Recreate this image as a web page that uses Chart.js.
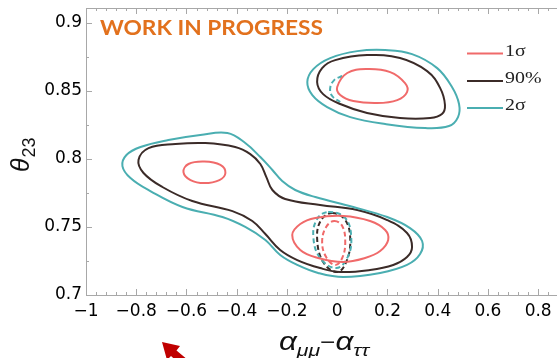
<!DOCTYPE html>
<html>
<head>
<meta charset="utf-8">
<script src="https://cdn.jsdelivr.net/npm/chart.js@4.4.0/dist/chart.umd.min.js"></script>
<style>
  html, body { margin: 0; padding: 0; background: #fff; }
  #wrap { width: 557px; height: 358px; position: relative; }
</style>
</head>
<body>
<div id="wrap"><canvas id="chart"></canvas></div>
<script>
// ejes y etiquetas
const xTicks = [-1, -0.8, -0.6, -0.4, -0.2, 0, 0.2, 0.4, 0.6, 0.8];
const xTickLabels = ['−1', '−0.8', '−0.6', '−0.4', '−0.2', '0', '0.2', '0.4', '0.6', '0.8'];
const yTicks = [0.7, 0.75, 0.8, 0.85, 0.9];
const yTickLabels = ['0.7', '0.75', '0.8', '0.85', '0.9'];
const legendLabels = ['1σ', '90%', '2σ'];

// 2σ, isla de arriba
const sig2UpX = [-0.119, -0.095, -0.028, 0.080, 0.191, 0.298, 0.398, 0.457, 0.485, 0.481, 0.445, 0.350, 0.191, 0.052, -0.040, -0.099];
const sig2UpY = [0.8566, 0.8661, 0.8742, 0.8793, 0.8801, 0.8771, 0.8668, 0.8529, 0.8404, 0.8308, 0.8242, 0.8227, 0.8257, 0.8308, 0.8382, 0.8470];
// 90%, isla de arriba
const c90UpX = [-0.080, -0.060, -0.008, 0.119, 0.250, 0.358, 0.410, 0.429, 0.417, 0.370, 0.250, 0.119, 0.012, -0.056];
const c90UpY = [0.8566, 0.8668, 0.8727, 0.8764, 0.8742, 0.8646, 0.8521, 0.8397, 0.8330, 0.8301, 0.8301, 0.8338, 0.8404, 0.8477];
// 1σ, isla de arriba
const sig1UpX = [0.000, 0.040, 0.119, 0.211, 0.270, 0.278, 0.239, 0.159, 0.064, 0.012];
const sig1UpY = [0.8529, 0.8632, 0.8661, 0.8639, 0.8558, 0.8492, 0.8433, 0.8411, 0.8426, 0.8470];
// 2σ punteado arriba (solo un arco)
const sig2DashUpX = [0.020, -0.012, -0.028, -0.020, 0.012];
const sig2DashUpY = [0.8610, 0.8580, 0.8521, 0.8463, 0.8419];

// 2σ, isla de abajo
const sig2LowX = [-0.545, -0.437, -0.366, -0.306, -0.258, -0.219, -0.167, -0.087, 0.064, 0.199, 0.290, 0.338, 0.330, 0.278, 0.171, 0.024, -0.076, -0.159, -0.227, -0.286, -0.366, -0.457, -0.616, -0.744, -0.823, -0.855, -0.839, -0.783, -0.672];
const sig2LowY = [0.8176, 0.8191, 0.8117, 0.8014, 0.7919, 0.7838, 0.7772, 0.7720, 0.7647, 0.7573, 0.7492, 0.7397, 0.7301, 0.7221, 0.7162, 0.7132, 0.7162, 0.7221, 0.7294, 0.7404, 0.7500, 0.7573, 0.7647, 0.7764, 0.7860, 0.7948, 0.8029, 0.8088, 0.8139];
// 90%, isla de abajo
const c90LowX = [-0.751, -0.644, -0.525, -0.406, -0.346, -0.306, -0.282, -0.258, -0.207, -0.068, 0.080, 0.199, 0.278, 0.298, 0.278, 0.223, 0.131, 0.012, -0.068, -0.159, -0.227, -0.286, -0.338, -0.417, -0.577, -0.696, -0.771, -0.791];
const c90LowY = [0.8080, 0.8110, 0.8117, 0.8088, 0.8036, 0.7963, 0.7867, 0.7772, 0.7706, 0.7662, 0.7625, 0.7551, 0.7456, 0.7353, 0.7279, 0.7221, 0.7184, 0.7169, 0.7198, 0.7257, 0.7331, 0.7448, 0.7544, 0.7617, 0.7691, 0.7794, 0.7897, 0.7992];
// 1σ, isla de abajo (izquierda y derecha)
const sig1LeftX = [-0.612, -0.592, -0.529, -0.465, -0.445, -0.469, -0.529, -0.584];
const sig1LeftY = [0.7904, 0.7963, 0.7981, 0.7956, 0.7897, 0.7845, 0.7823, 0.7845];
const sig1RightX = [-0.179, -0.147, -0.087, 0.024, 0.131, 0.191, 0.203, 0.171, 0.111, 0.024, -0.076, -0.147];
const sig1RightY = [0.7441, 0.7522, 0.7566, 0.7581, 0.7544, 0.7478, 0.7404, 0.7323, 0.7272, 0.7243, 0.7272, 0.7331];
// contornos punteados cerca de 0
const sig2DashX = [-0.036, 0.032, 0.056, 0.040, -0.004, -0.068, -0.095, -0.080];
const sig2DashY = [0.7610, 0.7566, 0.7419, 0.7272, 0.7198, 0.7272, 0.7426, 0.7559];
const c90DashX = [-0.020, 0.032, 0.052, 0.036, 0.000, -0.056, -0.080, -0.064];
const c90DashY = [0.7603, 0.7551, 0.7404, 0.7243, 0.7169, 0.7243, 0.7419, 0.7551];
const sig1DashX = [-0.012, 0.020, 0.032, 0.020, -0.008, -0.044, -0.060, -0.044];
const sig1DashY = [0.7544, 0.7507, 0.7390, 0.7272, 0.7221, 0.7279, 0.7390, 0.7500];

const red = '#F06A6A';
const black = '#3B2B28';
const teal = '#4AAEB1';
const axisColor = '#A8A8A8';

// Contorno cerrado: repetimos puntos en los extremos y ocultamos el primer y el último tramo
function closedContour(xs, ys, color, dash) {
    const n = xs.length;
    const pts = xs.map((x, i) => ({ x: x, y: ys[i] }));
    const data = [pts[n - 1]].concat(pts, [pts[0], pts[1]]);
    const last = data.length - 1;
    return {
        data: data,
        showLine: true,
        borderColor: color,
        borderWidth: 2,
        borderDash: dash || [],
        pointRadius: 0,
        tension: 0.4,
        segment: {
            borderColor: c => (c.p0DataIndex === 0 || c.p1DataIndex === last) ? 'rgba(0,0,0,0)' : color
        }
    };
}

function openContour(xs, ys, color, dash) {
    return {
        data: xs.map((x, i) => ({ x: x, y: ys[i] })),
        showLine: true,
        borderColor: color,
        borderWidth: 2,
        borderDash: dash || [],
        pointRadius: 0,
        tension: 0.4
    };
}

const dash = [5, 3];

// texto estirado en horizontal, como en la figura original
function stretchText(ctx, text, x, y, font, sx) {
    ctx.save();
    ctx.translate(x, y);
    ctx.scale(sx, 1);
    ctx.font = font;
    ctx.fillText(text, 0, 0);
    const w = ctx.measureText(text).width * sx;
    ctx.restore();
    return w;
}

const decor = {
    id: 'decor',
    afterDraw(chart) {
        const ctx = chart.ctx;
        const a = chart.chartArea;
        const xs = chart.scales.x;
        const ys = chart.scales.y;
        ctx.save();

        // marco (izquierda, abajo, arriba)
        ctx.strokeStyle = axisColor;
        ctx.lineWidth = 1;
        ctx.beginPath();
        ctx.moveTo(a.right, a.top + 0.5);
        ctx.lineTo(a.left + 0.5, a.top + 0.5);
        ctx.lineTo(a.left + 0.5, a.bottom + 0.5);
        ctx.lineTo(a.right, a.bottom + 0.5);
        ctx.stroke();

        // marcas hacia dentro, mayores y menores
        ctx.beginPath();
        for (let i = 0; ; i++) {
            const v = -1 + i * 0.04;
            if (v > xs.max + 1e-9) break;
            const px = Math.round(xs.getPixelForValue(v)) + 0.5;
            const len = (i % 5 === 0) ? 6 : 3;
            ctx.moveTo(px, a.bottom);
            ctx.lineTo(px, a.bottom - len);
            ctx.moveTo(px, a.top);
            ctx.lineTo(px, a.top + len);
        }
        for (let i = 0; ; i++) {
            const v = 0.7 + i * 0.025;
            if (v > ys.max + 1e-9) break;
            const py = Math.round(ys.getPixelForValue(v)) + 0.5;
            const len = (i % 2 === 0) ? 6 : 3;
            ctx.moveTo(a.left, py);
            ctx.lineTo(a.left + len, py);
        }
        ctx.stroke();

        // leyenda
        const legendColors = [red, black, teal];
        const legendY = [53.5, 81, 108];
        ctx.textBaseline = 'alphabetic';
        for (let i = 0; i < legendLabels.length; i++) {
            ctx.strokeStyle = legendColors[i];
            ctx.lineWidth = 2;
            ctx.beginPath();
            ctx.moveTo(467, legendY[i]);
            ctx.lineTo(503, legendY[i]);
            ctx.stroke();
            ctx.fillStyle = '#222';
            stretchText(ctx, legendLabels[i], 505, legendY[i] + 2, '17px "Liberation Serif"', 1.17);
        }

        // WORK IN PROGRESS
        ctx.save();
        ctx.font = 'bold 21px Lato';
        const w = ctx.measureText('WORK IN PROGRESS').width;
        ctx.translate(100, 35);
        ctx.scale(223 / w, 1);
        ctx.fillStyle = '#E2711D';
        ctx.fillText('WORK IN PROGRESS', 0, 0);
        ctx.restore();

        // título eje x
        ctx.fillStyle = '#111';
        let tx = 279;
        const by = 350;
        const parts = [
            ['α', 'italic 25px "Liberation Sans"', 0],
            ['μμ', 'italic 17px "Liberation Sans"', 6],
            ['−', '21px "Liberation Sans"', -1],
            ['α', 'italic 25px "Liberation Sans"', 0],
            ['ττ', 'italic 17px "Liberation Sans"', 6]
        ];
        parts.forEach(p => {
            tx += stretchText(ctx, p[0], tx, by + p[2], p[1], 1.25);
        });

        // título eje y (rotado)
        ctx.save();
        ctx.translate(29, 172);
        ctx.rotate(-Math.PI / 2);
        ctx.font = 'italic 25px "Liberation Sans"';
        ctx.fillText('θ', 0, 0);
        const tw = ctx.measureText('θ').width;
        ctx.font = '18px "Liberation Sans"';
        ctx.fillText('23', tw + 1, 6);
        ctx.restore();

        // flecha roja abajo
        ctx.fillStyle = '#C00000';
        ctx.beginPath();
        ctx.moveTo(162, 342);
        ctx.lineTo(180, 346);
        ctx.lineTo(176.5, 350.5);
        ctx.lineTo(200, 370);
        ctx.lineTo(194, 377);
        ctx.lineTo(171, 356);
        ctx.lineTo(167, 360);
        ctx.closePath();
        ctx.fill();

        ctx.restore();
    }
};

new Chart(document.getElementById('chart'), {
    type: 'scatter',
    data: {
        datasets: [
            closedContour(sig2UpX, sig2UpY, teal),
            closedContour(c90UpX, c90UpY, black),
            closedContour(sig1UpX, sig1UpY, red),
            openContour(sig2DashUpX, sig2DashUpY, teal, dash),
            closedContour(sig2LowX, sig2LowY, teal),
            closedContour(c90LowX, c90LowY, black),
            closedContour(sig1LeftX, sig1LeftY, red),
            closedContour(sig1RightX, sig1RightY, red),
            closedContour(sig2DashX, sig2DashY, teal, dash),
            closedContour(c90DashX, c90DashY, black, dash),
            closedContour(sig1DashX, sig1DashY, red, dash)
        ]
    },
    options: {
        responsive: true,
        maintainAspectRatio: false,
        animation: false,
        events: [],
        layout: { padding: { top: 8, right: 0, left: 0, bottom: 0 } },
        plugins: { legend: { display: false }, tooltip: { enabled: false } },
        scales: {
            x: {
                type: 'linear',
                min: -1,
                max: 0.875,
                afterFit: s => { s.height = 63; s.paddingLeft = 0; s.paddingRight = 0; },
                afterBuildTicks: s => { s.ticks = xTicks.map(v => ({ value: v })); },
                grid: { display: false, drawTicks: false },
                border: { display: false },
                ticks: {
                    callback: (v, i) => xTickLabels[i],
                    font: { family: '"DejaVu Sans"', size: 17 },
                    color: '#000',
                    padding: 6,
                    maxRotation: 0,
                    autoSkip: false
                }
            },
            y: {
                type: 'linear',
                min: 0.7,
                max: 0.911,
                afterFit: s => { s.width = 86; s.paddingTop = 0; s.paddingBottom = 0; },
                afterBuildTicks: s => { s.ticks = yTicks.map(v => ({ value: v })); },
                grid: { display: false, drawTicks: false },
                border: { display: false },
                ticks: {
                    callback: (v, i) => yTickLabels[i],
                    font: { family: '"DejaVu Sans"', size: 17 },
                    color: '#000',
                    padding: 4,
                    autoSkip: false
                }
            }
        }
    },
    plugins: [decor]
});
</script>
</body>
</html>
